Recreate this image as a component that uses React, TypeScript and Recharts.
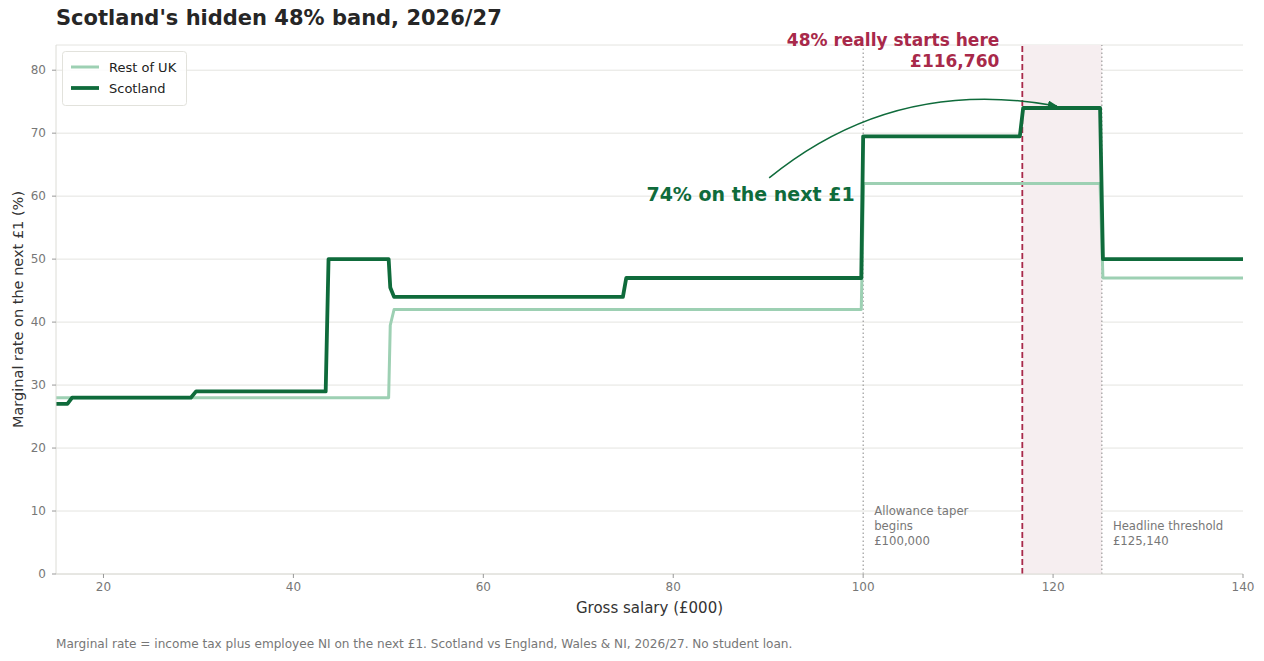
import React from "react";
import {
  LineChart,
  Line,
  XAxis,
  YAxis,
  CartesianGrid,
  ReferenceLine,
  ReferenceArea,
} from "recharts";

// ---- data (salary in £000, marginal rate %) ----
const scotlandSalary = [15, 16.2, 16.7, 29.2, 29.75, 43.4, 43.7, 50.03, 50.2, 50.6, 74.7, 75.05, 99.8, 100.0, 116.5, 116.85, 124.95, 125.25, 140];
const scotlandRate = [27, 27, 28, 28, 29, 29, 50, 50, 45.5, 44, 44, 47, 47, 69.5, 69.5, 74, 74, 50, 50];
const rukSalary = [15, 50.03, 50.2, 50.6, 99.8, 100.05, 124.95, 125.25, 140];
const rukRate = [28, 28, 39.5, 42, 42, 62, 62, 47, 47];

const xTicks = [20, 40, 60, 80, 100, 120, 140];
const yTicks = [0, 10, 20, 30, 40, 50, 60, 70, 80];

const taperStart = 100;
const realStart = 116.76;
const headline = 125.14;

const scotlandData = scotlandSalary.map((x, i) => ({ x, y: scotlandRate[i] }));
const rukData = rukSalary.map((x, i) => ({ x, y: rukRate[i] }));

// ---- layout ----
const W = 1264;
const H = 661;
const X_DOMAIN: [number, number] = [15, 140];
const Y_DOMAIN: [number, number] = [0, 84];
const MARGIN = { top: 45, right: 21, left: 10, bottom: 57 };
const Y_AXIS_W = 46;
const X_AXIS_H = 30;
const PLOT_L = MARGIN.left + Y_AXIS_W;
const PLOT_T = MARGIN.top;
const PLOT_W = W - PLOT_L - MARGIN.right;
const PLOT_H = H - MARGIN.top - MARGIN.bottom - X_AXIS_H;
const px = (v: number) => PLOT_L + ((v - X_DOMAIN[0]) / (X_DOMAIN[1] - X_DOMAIN[0])) * PLOT_W;
const py = (v: number) => PLOT_T + ((Y_DOMAIN[1] - v) / (Y_DOMAIN[1] - Y_DOMAIN[0])) * PLOT_H;

const DARK = "#0f6b3b";
const LIGHT = "#9dd0b3";
const RED = "#a8294a";
const FONT = "DejaVu Sans, sans-serif";

export default function App() {
  // arrow from text to the 74% plateau
  const a0 = { x: px(90.1), y: py(62.9) };
  const a1 = { x: px(120.4), y: py(74.3) };
  const ctrl = { x: px(103.3), y: py(79.1) };
  const midY = (PLOT_T + PLOT_T + PLOT_H) / 2;

  return (
    <div style={{ position: "absolute", left: 0, top: 0, width: W, height: H, background: "#fff", fontFamily: FONT }}>
      <LineChart width={W} height={H} margin={MARGIN}>
        <ReferenceArea x1={realStart} x2={headline} y1={0} y2={84} fill="#f6eef0" fillOpacity={1} stroke="none" ifOverflow="visible" />
        <CartesianGrid vertical={false} stroke="#e4e4e0" strokeWidth={1} />
        <XAxis
          dataKey="x"
          type="number"
          domain={X_DOMAIN}
          ticks={xTicks}
          allowDataOverflow
          height={X_AXIS_H}
          stroke="#dcdcd6"
          tickSize={4}
          tickMargin={4}
          tick={{ fill: "#777", fontSize: 12, fontFamily: FONT }}
          tickLine={{ stroke: "#999" }}
        />
        <YAxis
          type="number"
          domain={Y_DOMAIN}
          ticks={yTicks}
          width={Y_AXIS_W}
          stroke="#dcdcd6"
          tickSize={4}
          tickMargin={6}
          tick={{ fill: "#777", fontSize: 12, fontFamily: FONT }}
          tickLine={{ stroke: "#999" }}
        />
        <ReferenceLine x={taperStart} stroke="#888" strokeDasharray="1.5 2.5" strokeWidth={1} />
        <ReferenceLine x={headline} stroke="#888" strokeDasharray="1.5 2.5" strokeWidth={1} />
        <ReferenceLine x={realStart} stroke={RED} strokeDasharray="6 3" strokeWidth={1.8} />
        <Line
          data={rukData}
          dataKey="y"
          type="linear"
          stroke={LIGHT}
          strokeWidth={3}
          dot={false}
          isAnimationActive={false}
          strokeLinejoin="round"
        />
        <Line
          data={scotlandData}
          dataKey="y"
          type="linear"
          stroke={DARK}
          strokeWidth={3.8}
          dot={false}
          isAnimationActive={false}
          strokeLinejoin="round"
        />
      </LineChart>
      <svg
        width={W}
        height={H}
        style={{ position: "absolute", left: 0, top: 0, pointerEvents: "none" }}
        fontFamily={FONT}
      >
        <defs>
          <marker id="ah" markerWidth="10" markerHeight="8" refX="9" refY="4" orient="auto" markerUnits="userSpaceOnUse">
            <path d="M0,0 L10,4 L0,8 Z" fill={DARK} />
          </marker>
        </defs>
        {/* title */}
        <text x={56} y={25} fontSize={21} fontWeight="bold" fill="#262626">
          Scotland's hidden 48% band, 2026/27
        </text>
        {/* legend */}
        <rect x={62.5} y={51.5} width={124} height={54} rx={3} fill="#fff" fillOpacity={0.85} stroke="#e2e2dc" />
        <line x1={71} x2={99} y1={67} y2={67} stroke={LIGHT} strokeWidth={3} />
        <text x={109} y={71.5} fontSize={13} fill="#222">Rest of UK</text>
        <line x1={71} x2={99} y1={88} y2={88} stroke={DARK} strokeWidth={3.8} />
        <text x={109} y={92.5} fontSize={13} fill="#222">Scotland</text>
        {/* axis labels */}
        <text x={px(77.5)} y={613} fontSize={15} fill="#333" textAnchor="middle">Gross salary (£000)</text>
        <text
          x={22.5}
          y={midY}
          fontSize={14.5}
          fill="#333"
          textAnchor="middle"
          transform={`rotate(-90 22.5 ${midY})`}
        >
          Marginal rate on the next £1 (%)
        </text>
        {/* footnote */}
        <text x={56} y={648} fontSize={12.1} fill="#777">
          Marginal rate = income tax plus employee NI on the next £1. Scotland vs England, Wales &amp; NI, 2026/27. No student loan.
        </text>
        {/* red annotation */}
        <text x={px(realStart) - 23} y={46} fontSize={17} fontWeight="bold" fill={RED} textAnchor="end">48% really starts here</text>
        <text x={px(realStart) - 23} y={67} fontSize={17} fontWeight="bold" fill={RED} textAnchor="end">£116,760</text>
        {/* green annotation */}
        <text x={px(99.1)} y={201} fontSize={19} fontWeight="bold" fill={DARK} textAnchor="end">74% on the next £1</text>
        <path
          d={`M${a0.x},${a0.y} Q${ctrl.x},${ctrl.y} ${a1.x},${a1.y}`}
          fill="none"
          stroke={DARK}
          strokeWidth={1.5}
          markerEnd="url(#ah)"
        />
        {/* line notes */}
        <text fontSize={11.7} fill="#777">
          <tspan x={px(taperStart) + 11} y={515}>Allowance taper</tspan>
          <tspan x={px(taperStart) + 11} y={530}>begins</tspan>
          <tspan x={px(taperStart) + 11} y={545}>£100,000</tspan>
        </text>
        <text fontSize={11.7} fill="#777">
          <tspan x={px(headline) + 11} y={530}>Headline threshold</tspan>
          <tspan x={px(headline) + 11} y={545}>£125,140</tspan>
        </text>
      </svg>
    </div>
  );
}
